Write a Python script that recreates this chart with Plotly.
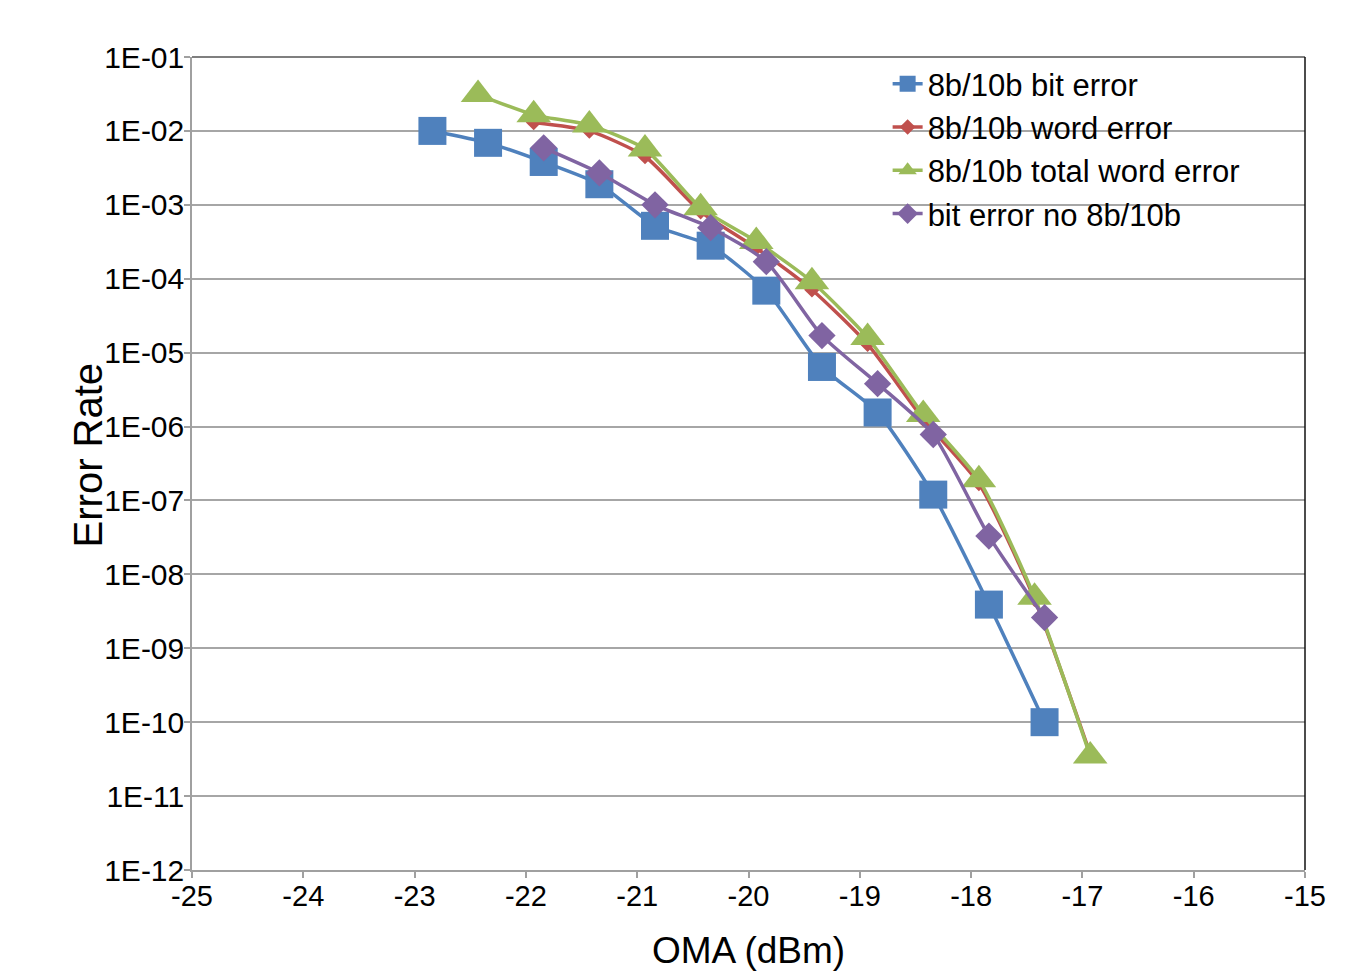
import plotly.graph_objects as go

# OMA (dBm) values
x_bit = [-22.84, -22.34, -21.84, -21.34, -20.84, -20.34, -19.84, -19.34, -18.84, -18.34, -17.84, -17.34]
y_bit = [1.0e-2, 6.9e-3, 3.8e-3, 1.9e-3, 5.2e-4, 2.8e-4, 6.9e-5, 6.4e-6, 1.55e-6, 1.2e-7, 3.9e-9, 1.0e-10]

x_word = [-21.93, -21.43, -20.93, -20.43, -19.93, -19.43, -18.93, -18.43, -17.93, -17.43, -16.93]
y_word = [1.3e-2, 1.0e-2, 4.5e-3, 8.1e-4, 2.6e-4, 7.1e-5, 1.3e-5, 1.26e-6, 1.7e-7, 4.6e-9, 3.7e-11]

x_total = [-22.43, -21.93, -21.43, -20.93, -20.43, -19.93, -19.43, -18.93, -18.43, -17.93, -17.43, -16.93]
y_total = [3.1e-2, 1.65e-2, 1.2e-2, 5.7e-3, 9.1e-4, 3.2e-4, 9.1e-5, 1.6e-5, 1.45e-6, 1.9e-7, 4.9e-9, 3.5e-11]

x_nocode = [-21.84, -21.34, -20.84, -20.34, -19.84, -19.34, -18.84, -18.34, -17.84, -17.34]
y_nocode = [5.9e-3, 2.7e-3, 1.0e-3, 4.9e-4, 1.7e-4, 1.7e-5, 3.8e-6, 7.8e-7, 3.3e-8, 2.6e-9]

names = ["8b/10b bit error", "8b/10b word error", "8b/10b total word error", "bit error no 8b/10b"]

y_tickvals = [1e-1, 1e-2, 1e-3, 1e-4, 1e-5, 1e-6, 1e-7, 1e-8, 1e-9, 1e-10, 1e-11, 1e-12]
y_ticktext = ["1E-01", "1E-02", "1E-03", "1E-04", "1E-05", "1E-06", "1E-07", "1E-08", "1E-09", "1E-10", "1E-11", "1E-12"]
x_tickvals = [-25, -24, -23, -22, -21, -20, -19, -18, -17, -16, -15]
x_ticktext = ["-25", "-24", "-23", "-22", "-21", "-20", "-19", "-18", "-17", "-16", "-15"]

x_title = "OMA (dBm)"
y_title = "Error Rate"

FONT = "Liberation Sans, Arial, sans-serif"

fig = go.Figure()
series = [
    (x_bit, y_bit, names[0], "#4F81BD", "square", 28),
    (x_word, y_word, names[1], "#C0504D", "diamond", 12),
    (x_total, y_total, names[2], "#9BBB59", "triangle-up", 30),
    (x_nocode, y_nocode, names[3], "#8064A2", "diamond", 21),
]
for xs, ys, nm, col, sym, sz in series:
    fig.add_trace(go.Scatter(
        x=xs, y=ys, name=nm, mode="lines+markers",
        line=dict(color=col, width=3.5, shape="spline", smoothing=0.6),
        marker=dict(color=col, symbol=sym, size=sz, line=dict(width=0)),
    ))

fig.update_layout(
    width=1357, height=973,
    paper_bgcolor="white", plot_bgcolor="white",
    margin=dict(l=184, r=60, t=49, b=111),
    font=dict(family=FONT, color="black"),
    legend=dict(x=0.625, y=1.0, xanchor="left", yanchor="top",
                bgcolor="rgba(0,0,0,0)", font=dict(size=31, family=FONT),
                tracegroupgap=0),
    showlegend=True,
    shapes=[
        dict(type="line", xref="paper", yref="paper", x0=0, x1=1, y0=1, y1=1,
             line=dict(color="#555555", width=1.5)),
        dict(type="line", xref="paper", yref="paper", x0=1, x1=1, y0=0, y1=1,
             line=dict(color="#111111", width=1.5)),
    ],
    annotations=[
        dict(text=y_title, xref="paper", yref="paper", x=-0.0934, y=0.51,
             xanchor="center", yanchor="middle", textangle=-90, showarrow=False,
             font=dict(size=40, family=FONT, color="black")),
    ],
)
fig.update_xaxes(
    type="linear", range=[-25, -15], tickvals=x_tickvals, ticktext=x_ticktext,
    tickfont=dict(size=29), ticks="outside", ticklen=6, tickcolor="#A0A0A0", tickwidth=1.5,
    ticklabelstandoff=-7,
    showgrid=False, showline=True, linecolor="#A0A0A0", linewidth=1.5, mirror=False,
    zeroline=False,
    title=dict(text=x_title, font=dict(size=37), standoff=27),
)
fig.update_yaxes(
    type="log", range=[-12, -1], tickvals=y_tickvals, ticktext=y_ticktext,
    tickfont=dict(size=30), ticks="outside", ticklen=6, tickcolor="#A0A0A0", tickwidth=1.5,
    ticklabelstandoff=-6,
    showgrid=True, gridcolor="#A6A6A6", gridwidth=1.5,
    showline=True, linecolor="#A0A0A0", linewidth=1.5, mirror=False,
)

fig.write_html("out.html")
